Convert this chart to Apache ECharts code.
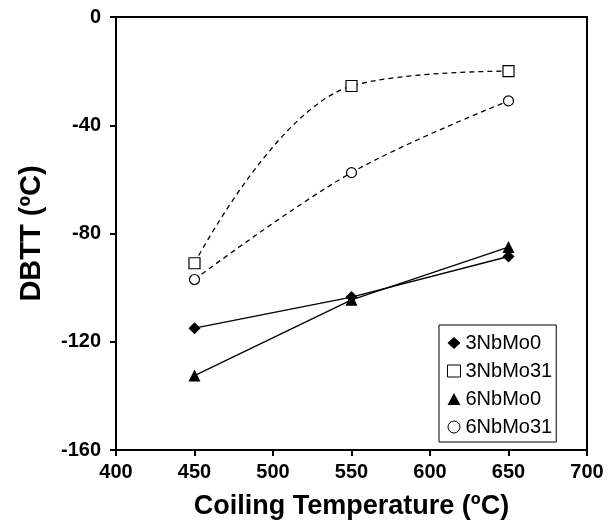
<!DOCTYPE html>
<html>
<head>
<meta charset="utf-8">
<script src="https://cdn.jsdelivr.net/npm/echarts@6/dist/echarts.min.js"></script>
<style>
  html, body { margin: 0; padding: 0; background: #fff; }
  #main { width: 612px; height: 525px; }
</style>
</head>
<body>
<div id="main"></div>
<script>
// coiling temperatures (x)
const temps = [450, 550, 650]
// DBTT values
const nb3mo0 = [-115, -103.5, -88.5]
const nb3mo31 = [-91, -25.5, -20]
const nb6mo0 = [-132.5, -104.5, -85]
const nb6mo31 = [-97, -57.5, -31]

const names = ['3NbMo0', '3NbMo31', '6NbMo0', '6NbMo31']

const pairs = arr => temps.map((t, i) => [t, arr[i]])
const font = 'Liberation Sans, Arial, sans-serif'

const myChart = echarts.init(document.querySelector('#main'))
myChart.setOption({
  animation: false,
  grid: {
    left: 116, right: 25, top: 17, bottom: 75,
    show: true, borderColor: '#000', borderWidth: 2
  },
  xAxis: {
    type: 'value', min: 400, max: 700, interval: 50,
    name: 'Coiling Temperature (ºC)',
    nameLocation: 'middle', nameGap: 43,
    nameTextStyle: { fontFamily: font, fontWeight: 'bold', fontSize: 27, color: '#000' },
    axisLine: { onZero: false, lineStyle: { color: '#000', width: 2 } },
    axisTick: { inside: false, length: 6, lineStyle: { color: '#000', width: 2 } },
    axisLabel: { fontFamily: font, fontWeight: 'bold', fontSize: 20, color: '#000', margin: 12 },
    splitLine: { show: false }
  },
  yAxis: {
    type: 'value', min: -160, max: 0, interval: 40,
    name: 'DBTT (ºC)',
    nameLocation: 'middle', nameGap: 70,
    nameTextStyle: { fontFamily: font, fontWeight: 'bold', fontSize: 29, color: '#000' },
    axisLine: { onZero: false, lineStyle: { color: '#000', width: 2 } },
    axisTick: { inside: false, length: 6, lineStyle: { color: '#000', width: 2 } },
    axisLabel: { fontFamily: font, fontWeight: 'bold', fontSize: 20, color: '#000', margin: 15 },
    splitLine: { show: false }
  },
  legend: {
    orient: 'vertical',
    left: 439, top: 325,
    borderColor: '#000', borderWidth: 1,
    padding: [8, 4, 5, 8],
    itemGap: 8,
    itemWidth: 13, itemHeight: 12,
    textStyle: { fontFamily: font, fontSize: 20, color: '#000' },
    data: [
      { name: names[0], icon: 'diamond', itemStyle: { color: '#000' } },
      { name: names[1], icon: 'rect', itemStyle: { color: '#fff', borderColor: '#000', borderWidth: 1 } },
      { name: names[2], icon: 'triangle', itemStyle: { color: '#000' } },
      { name: names[3], icon: 'circle', itemStyle: { color: '#fff', borderColor: '#000', borderWidth: 1 } }
    ]
  },
  series: [
    {
      name: names[0], type: 'line', data: pairs(nb3mo0),
      symbol: 'diamond', symbolSize: 12,
      itemStyle: { color: '#000' },
      lineStyle: { color: '#000', width: 1.3 }
    },
    {
      name: names[1], type: 'line', data: pairs(nb3mo31), smooth: 0.4,
      symbol: 'rect', symbolSize: 11,
      itemStyle: { color: '#fff', borderColor: '#000', borderWidth: 1.2 },
      lineStyle: { color: '#000', width: 1.3, type: [5, 4] }
    },
    {
      name: names[2], type: 'line', data: pairs(nb6mo0),
      symbol: 'triangle', symbolSize: 12,
      itemStyle: { color: '#000' },
      lineStyle: { color: '#000', width: 1.3 }
    },
    {
      name: names[3], type: 'line', data: pairs(nb6mo31), smooth: 0.35,
      symbol: 'circle', symbolSize: 10,
      itemStyle: { color: '#fff', borderColor: '#000', borderWidth: 1.2 },
      lineStyle: { color: '#000', width: 1.3, type: [5, 4] }
    }
  ]
})
</script>
</body>
</html>
